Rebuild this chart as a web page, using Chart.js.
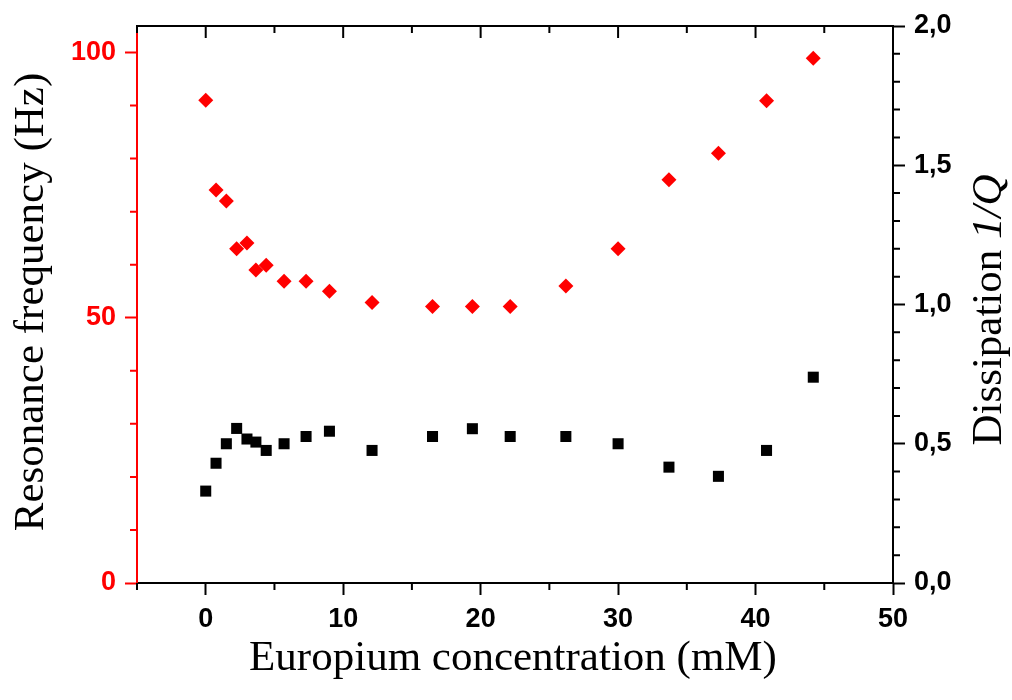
<!DOCTYPE html>
<html>
<head>
<meta charset="utf-8">
<script src="https://cdn.jsdelivr.net/npm/chart.js@4.4.0/dist/chart.umd.min.js"></script>
<style>
  html, body { margin: 0; padding: 0; background: #fff; }
</style>
</head>
<body>
<canvas id="chart" width="1012" height="700"></canvas>
<script>
// Europium concentration (mM)
const concentration = [0, 0.75, 1.5, 2.25, 3.0, 3.65, 4.4, 5.7, 7.3, 9.0, 12.1, 16.5, 19.4, 22.15, 26.2, 30.0, 33.7, 37.3, 40.8, 44.2];
// Resonance frequency (Hz) - red diamonds, left axis
const frequency = [91.0, 74.1, 72.0, 63.0, 64.1, 59.0, 59.9, 56.9, 56.9, 55.0, 52.9, 52.1, 52.1, 52.1, 56.0, 63.0, 76.0, 81.0, 90.9, 98.9];
// Dissipation 1/Q - black squares, right axis
const dissipation = [0.33, 0.43, 0.50, 0.555, 0.517, 0.506, 0.476, 0.50, 0.526, 0.545, 0.476, 0.526, 0.554, 0.526, 0.526, 0.50, 0.416, 0.383, 0.476, 0.739];

// tick values
const xMajorTicks = [0, 10, 20, 30, 40, 50];
const xMinorTicks = [-5, 5, 15, 25, 35, 45];
const freqMajorTicks = [0, 50, 100];
const freqMinorTicks = [10, 20, 30, 40, 60, 70, 80, 90];
const dissMajorTicks = [0, 0.5, 1.0, 1.5, 2.0];
const dissMinorTicks = [0.1, 0.2, 0.3, 0.4, 0.6, 0.7, 0.8, 0.9, 1.1, 1.2, 1.3, 1.4, 1.6, 1.7, 1.8, 1.9];

const RED = '#ff0000';
const BLACK = '#000000';
const tickFont = { family: "'Liberation Sans', Arial, sans-serif", size: 27, weight: 'bold' };
const titleFont = "43px 'Liberation Serif', 'Times New Roman', serif";

const setTicks = values => scale => { scale.ticks = values.map(v => ({ value: v })); };

// minor ticks, top frame line and axis titles
const extrasPlugin = {
    id: 'extras',
    afterDraw(chart) {
        const ctx = chart.ctx;
        const { left, right, top, bottom } = chart.chartArea;
        const xs = chart.scales.x, ys = chart.scales.y, y1 = chart.scales.y1;
        ctx.save();
        ctx.lineWidth = 2;
        ctx.lineCap = 'butt';

        // top frame line with inward ticks
        ctx.strokeStyle = BLACK;
        ctx.beginPath();
        ctx.moveTo(left - 1, top);
        ctx.lineTo(right + 1, top);
        xMajorTicks.forEach(v => {
            const px = xs.getPixelForValue(v);
            ctx.moveTo(px, top); ctx.lineTo(px, top + 12);
        });
        xMinorTicks.forEach(v => {
            const px = xs.getPixelForValue(v);
            ctx.moveTo(px, top); ctx.lineTo(px, top + 7);
        });
        // bottom minor ticks (outward)
        xMinorTicks.forEach(v => {
            const px = xs.getPixelForValue(v);
            ctx.moveTo(px, bottom); ctx.lineTo(px, bottom + 7);
        });
        // right minor ticks
        dissMinorTicks.forEach(v => {
            const py = y1.getPixelForValue(v);
            ctx.moveTo(right, py); ctx.lineTo(right + 7, py);
        });
        ctx.stroke();

        // left minor ticks (red)
        ctx.strokeStyle = RED;
        ctx.beginPath();
        freqMinorTicks.forEach(v => {
            const py = ys.getPixelForValue(v);
            ctx.moveTo(left - 7, py); ctx.lineTo(left, py);
        });
        ctx.stroke();

        // titles
        ctx.fillStyle = BLACK;
        ctx.font = titleFont;
        ctx.textBaseline = 'middle';
        ctx.textAlign = 'center';
        ctx.fillText('Europium concentration (mM)', 513, 659);

        ctx.save();
        ctx.translate(32, 302);
        ctx.rotate(-Math.PI / 2);
        ctx.fillText('Resonance frequency (Hz)', 0, 0);
        ctx.restore();

        // right title with italic 1/Q
        ctx.save();
        ctx.translate(990, 310);
        ctx.rotate(-Math.PI / 2);
        ctx.textAlign = 'left';
        const part1 = 'Dissipation ';
        const part2 = '1/Q';
        ctx.font = titleFont;
        const w1 = ctx.measureText(part1).width;
        ctx.font = 'italic ' + titleFont;
        const w2 = ctx.measureText(part2).width;
        const start = -(w1 + w2) / 2;
        ctx.font = titleFont;
        ctx.fillText(part1, start, 0);
        ctx.font = 'italic ' + titleFont;
        ctx.fillText(part2, start + w1, 0);
        ctx.restore();

        ctx.restore();
    }
};

const ctx = document.getElementById('chart');
new Chart(ctx, {
    type: 'scatter',
    data: {
        datasets: [
            {
                label: 'Resonance frequency',
                data: concentration.map((c, i) => ({ x: c, y: frequency[i] })),
                yAxisID: 'y',
                pointStyle: 'rectRot',
                pointRadius: 7.5,
                borderWidth: 0,
                backgroundColor: RED,
                borderColor: RED
            },
            {
                label: 'Dissipation',
                data: concentration.map((c, i) => ({ x: c, y: dissipation[i] })),
                yAxisID: 'y1',
                pointStyle: 'rect',
                pointRadius: 7.8,
                borderWidth: 0,
                backgroundColor: BLACK,
                borderColor: BLACK
            }
        ]
    },
    options: {
        responsive: false,
        animation: false,
        devicePixelRatio: 1,
        layout: { padding: { top: 26, left: 0, right: 0, bottom: 0 } },
        plugins: {
            legend: { display: false },
            tooltip: { enabled: false }
        },
        scales: {
            x: {
                type: 'linear',
                position: 'bottom',
                min: -5,
                max: 50,
                afterBuildTicks: setTicks(xMajorTicks),
                afterFit: scale => { scale.height = 117; },
                border: { display: true, color: BLACK, width: 2 },
                grid: { drawOnChartArea: false, drawTicks: true, tickLength: 12, tickWidth: 2, tickColor: BLACK },
                ticks: { color: BLACK, font: tickFont, padding: 8, maxRotation: 0 }
            },
            y: {
                type: 'linear',
                position: 'left',
                min: 0,
                max: 105,
                afterBuildTicks: setTicks(freqMajorTicks),
                afterFit: scale => { scale.width = 137; },
                border: { display: true, color: RED, width: 2 },
                grid: { drawOnChartArea: false, drawTicks: true, tickLength: 12, tickWidth: 2, tickColor: RED },
                ticks: { color: RED, font: tickFont, padding: 9 }
            },
            y1: {
                type: 'linear',
                position: 'right',
                min: 0,
                max: 2.0,
                afterBuildTicks: setTicks(dissMajorTicks),
                afterFit: scale => { scale.width = 119; },
                border: { display: true, color: BLACK, width: 2 },
                grid: { drawOnChartArea: false, drawTicks: true, tickLength: 12, tickWidth: 2, tickColor: BLACK },
                ticks: {
                    color: BLACK,
                    font: tickFont,
                    padding: 9,
                    callback: v => v.toFixed(1).replace('.', ',')
                }
            }
        }
    },
    plugins: [extrasPlugin]
});
</script>
</body>
</html>
